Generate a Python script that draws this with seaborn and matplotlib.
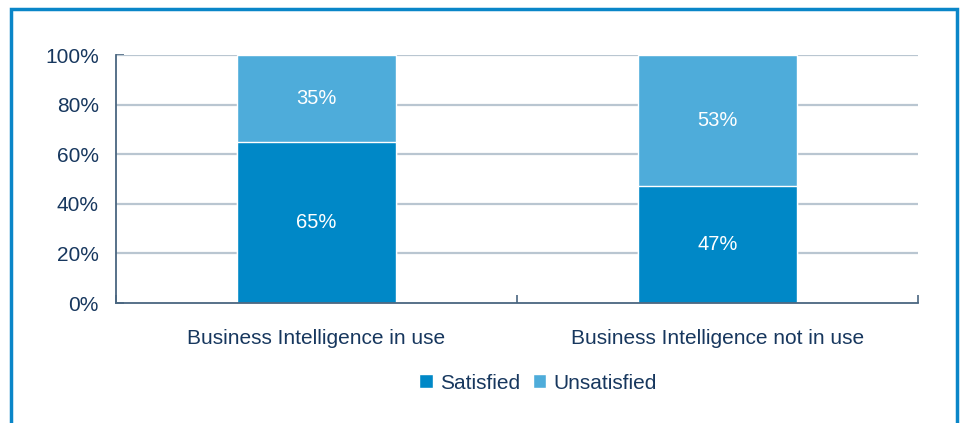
import matplotlib
matplotlib.use("Agg")
import matplotlib.pyplot as plt
from matplotlib.patches import Rectangle, Patch
from matplotlib.ticker import FixedLocator, PercentFormatter
import seaborn as sns
import pandas as pd

categories = ["Business Intelligence in use", "Business Intelligence not in use"]
satisfied = [65, 47]
unsatisfied = [35, 53]
series_names = ["Satisfied", "Unsatisfied"]
y_ticks = [0, 20, 40, 60, 80, 100]

DARK = "#0088C7"
LIGHT = "#4EACDA"
TEXT = "#17375E"
GRID = "#B9C6D1"
SPINE = "#4A6680"

sns.set_theme(style="white")
plt.rcParams["font.family"] = ["Liberation Sans", "DejaVu Sans"]

df = pd.DataFrame({
    "category": categories,
    "satisfied": satisfied,
    "total": [s + u for s, u in zip(satisfied, unsatisfied)],
})

fig = plt.figure(figsize=(9.62, 4.23), dpi=100)
ax = fig.add_axes([116 / 962, 1 - 303 / 423, (918 - 116) / 962, (303 - 55) / 423])

# stacked bars: full height in the light tone, satisfied share on top in the dark tone
sns.barplot(data=df, x="category", y="total", color=LIGHT, saturation=1,
            width=0.395, edgecolor="white", linewidth=1, ax=ax, zorder=3)
sns.barplot(data=df, x="category", y="satisfied", color=DARK, saturation=1,
            width=0.395, edgecolor="white", linewidth=1, ax=ax, zorder=3)

for i, (s, u) in enumerate(zip(satisfied, unsatisfied)):
    ax.text(i, s / 2, f"{s}%", ha="center", va="center", color="white", fontsize=14.5, zorder=5)
    ax.text(i, s + u / 2, f"{u}%", ha="center", va="center", color="white", fontsize=14.5, zorder=5)

ax.set_xlim(-0.5, 1.5)
ax.set_ylim(0, 100)
ax.set_xlabel("")
ax.set_ylabel("")
ax.yaxis.set_major_locator(FixedLocator(y_ticks))
ax.yaxis.set_major_formatter(PercentFormatter(decimals=0))
for y in y_ticks[1:]:
    ax.axhline(y, color=GRID, lw=1.6, zorder=1)

ax.tick_params(axis="y", direction="in", length=6, width=1.2, color=SPINE,
               labelsize=15, labelcolor=TEXT, pad=12.5, left=True)
ax.tick_params(axis="x", which="major", length=0, labelsize=15, labelcolor=TEXT, pad=19)
ax.xaxis.set_minor_locator(FixedLocator([-0.5, 0.5, 1.5]))
ax.tick_params(axis="x", which="minor", direction="in", length=6, width=1.2, color=SPINE, bottom=True)

for side in ("top", "right"):
    ax.spines[side].set_visible(False)
for side in ("left", "bottom"):
    ax.spines[side].set_color(SPINE)
    ax.spines[side].set_linewidth(1.3)
    ax.spines[side].set_zorder(4)

handles = [Patch(facecolor=DARK, label=series_names[0]),
           Patch(facecolor=LIGHT, label=series_names[1])]
fig.legend(handles=handles, loc="center", bbox_to_anchor=(538 / 962, 1 - 383 / 423),
           ncol=2, frameon=False, fontsize=15, labelcolor=TEXT,
           handlelength=0.65, handleheight=0.65, handletextpad=0.35, columnspacing=0.6)

# blue frame around the chart area
fig.patches.append(Rectangle((11 / 962, -0.05), (957 - 11) / 962, 1.05 - 9 / 423,
                             transform=fig.transFigure, fill=False,
                             edgecolor="#0A86C8", linewidth=2.5))

fig.savefig("out.png", dpi=100)
